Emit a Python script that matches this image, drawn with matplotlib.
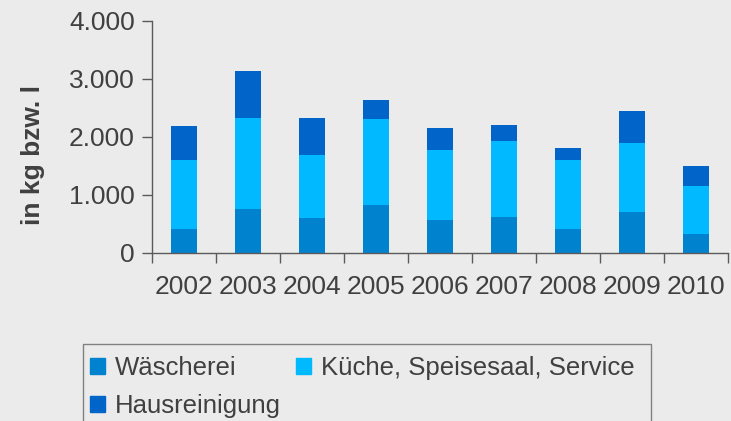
import matplotlib
matplotlib.use("Agg")
import matplotlib.pyplot as plt
import numpy as np
from matplotlib.patches import Patch, Rectangle
from matplotlib.ticker import FuncFormatter, FixedLocator

plt.rcParams['font.family'] = ['Liberation Sans', 'DejaVu Sans']

jahre = ['2002', '2003', '2004', '2005', '2006', '2007', '2008', '2009', '2010']
waescherei = [400, 750, 590, 820, 560, 610, 400, 700, 320]
kueche = [1200, 1570, 1090, 1485, 1210, 1315, 1200, 1190, 830]
hausreinigung = [580, 815, 640, 325, 380, 275, 200, 550, 340]

farben = ['#0082cf', '#00b9ff', '#0064c8']
bg = '#ebebeb'
txt = '#404040'
achse = '#5a5a5a'
fs = 19

fig = plt.figure(figsize=(7.31, 4.21), dpi=100, facecolor=bg)
ax = fig.add_axes([152/731, 1 - 252.5/421, 576/731, 231.5/421])
ax.set_facecolor(bg)

x = np.arange(len(jahre))
w = 0.41
b1 = np.array(waescherei)
b2 = b1 + np.array(kueche)
ax.bar(x, waescherei, w, color=farben[0])
ax.bar(x, kueche, w, bottom=b1, color=farben[1])
ax.bar(x, hausreinigung, w, bottom=b2, color=farben[2])

ax.set_xlim(-0.5, len(jahre) - 0.5)
ax.set_ylim(0, 4000)
ax.set_yticks([0, 1000, 2000, 3000, 4000])
ax.yaxis.set_major_formatter(FuncFormatter(lambda v, p: f'{int(v):,}'.replace(',', '.')))

ax.set_xticks(x)
ax.set_xticklabels(jahre)
ax.xaxis.set_minor_locator(FixedLocator(np.arange(-0.5, len(jahre), 1.0)))
ax.tick_params(axis='x', which='major', length=0, pad=16, labelsize=fs, labelcolor=txt)
ax.tick_params(axis='x', which='minor', length=7.5, width=1, color=achse)
ax.tick_params(axis='y', length=7.5, width=1, color=achse, pad=5, labelsize=fs, labelcolor=txt)

for s in ['top', 'right']:
    ax.spines[s].set_visible(False)
for s in ['left', 'bottom']:
    ax.spines[s].set_color(achse)
    ax.spines[s].set_linewidth(1)

fig.text(33/731, 1 - 155/421, 'in kg bzw. l', rotation=90, ha='center', va='center',
         fontsize=fs, fontweight='bold', color=txt)

# Legendenrahmen (unten abgeschnitten)
fig.patches.append(Rectangle((83/731, -0.05), (651 - 83)/731, 0.05 + (421 - 344)/421,
                             transform=fig.transFigure, facecolor='none',
                             edgecolor='#808080', linewidth=1))

handles = [Patch(color=farben[0], label='Wäscherei'),
           Patch(color=farben[2], label='Hausreinigung'),
           Patch(color=farben[1], label='Küche, Speisesaal, Service')]
fig.legend(handles=handles, ncol=2, loc='upper left',
           bbox_to_anchor=(80/731, 1 - 346/421), frameon=False, borderaxespad=0,
           fontsize=18.5, labelcolor=txt, handlelength=0.58, handleheight=0.58,
           handletextpad=0.38, columnspacing=0.6, labelspacing=0.55)

fig.savefig('out.png', dpi=100, facecolor=bg)
